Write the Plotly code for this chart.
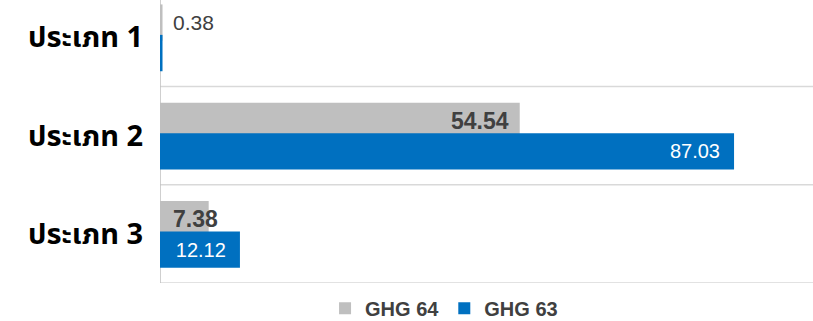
import plotly.graph_objects as go

categories = ["ประเภท 1", "ประเภท 2", "ประเภท 3"]
positions = [1, 2, 3]
ghg64 = [0.38, 54.54, 7.38]
ghg63 = [0.38, 87.03, 12.12]
ghg63_shown = [False, True, True]

GRAY = "#BFBFBF"
BLUE = "#0070C0"
TEXT_DARK = "#404040"
NBSP = "\u00a0"

BAR_W = 0.37
GRAY_OFF = -0.335
BLUE_OFF = -0.025

ghg63_text = [f"{v:.2f}{NBSP * 2}" if s else "" for v, s in zip(ghg63, ghg63_shown)]

fig = go.Figure()
fig.add_trace(go.Bar(
    name="GHG 64", y=positions, x=ghg64, orientation="h",
    marker=dict(color=GRAY, line=dict(width=0)),
    width=BAR_W, offset=GRAY_OFF,
))
fig.add_trace(go.Bar(
    name="GHG 63", y=positions, x=ghg63, orientation="h",
    marker=dict(color=BLUE, line=dict(width=0)),
    width=BAR_W, offset=BLUE_OFF,
    text=ghg63_text, textposition="inside",
    insidetextanchor="end", constraintext="none", textangle=0,
    textfont=dict(family="Arial", size=20, color="white"),
))

# GHG 64 value labels: at the bar end when they fit, otherwise from the base
for p, v in zip(positions, ghg64):
    fits = v >= 10
    fig.add_annotation(
        x=v if fits else 0, y=p + GRAY_OFF + 0.185, xref="x", yref="y",
        text=f"{v:.2f}", showarrow=False,
        xanchor="right" if fits else "left", xshift=-9 if fits else 11,
        yanchor="middle",
        font=dict(family="Arial", size=23 if v >= 1 else 21, color=TEXT_DARK,
                  weight="bold" if v >= 1 else "normal"),
    )

# horizontal separators between category bands
for b in [0.5, 1.5, 2.5, 3.5]:
    fig.add_shape(type="line", xref="paper", x0=0, x1=1, yref="y", y0=b, y1=b,
                  line=dict(color="#D9D9D9", width=1.5), layer="below")
# value axis baseline
fig.add_shape(type="line", xref="x", x0=0, x1=0, yref="paper", y0=0, y1=1,
              line=dict(color="#BFBFBF", width=1.5), layer="below")

fig.update_layout(
    width=813, height=321,
    margin=dict(l=160, r=0, t=0, b=38, autoexpand=False),
    paper_bgcolor="white", plot_bgcolor="white",
    barmode="overlay",
    showlegend=True,
    legend=dict(orientation="h", x=0.435, xanchor="center",
                yref="container", y=0.04, yanchor="middle",
                traceorder="normal", itemwidth=30,
                font=dict(family="Arial", size=20, color=TEXT_DARK, weight="bold")),
    xaxis=dict(range=[0, 99], showgrid=False, zeroline=False, showticklabels=False,
               showline=False),
    yaxis=dict(range=[3.5, 0.62], tickvals=positions, ticktext=categories,
               showgrid=False, zeroline=False, showline=False, ticks="",
               ticklabelstandoff=16,
               tickfont=dict(family="Noto Sans Thai, Loma, Garuda, sans-serif", size=29,
                             color="black", weight="bold")),
)

fig.write_html("out.html")
